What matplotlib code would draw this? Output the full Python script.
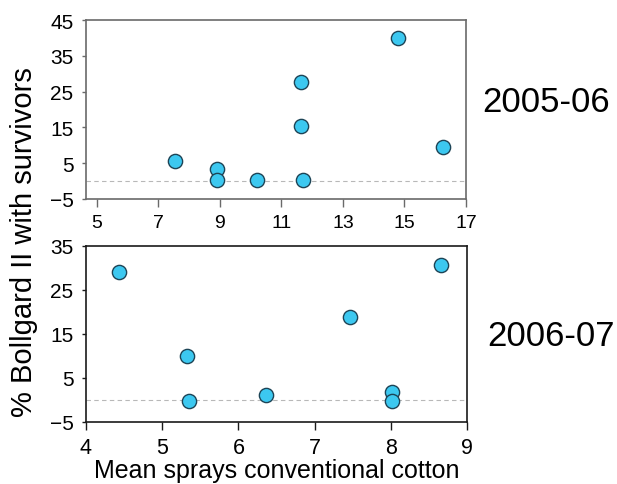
import matplotlib
matplotlib.use("Agg")
import matplotlib.pyplot as plt

# Bollgard II survivors vs. mean sprays on conventional cotton
x_0506 = [7.56, 8.9, 8.9, 10.2, 11.65, 11.65, 11.7, 14.8, 16.25]
y_0506 = [5.5, 3.4, 0.3, 0.3, 27.6, 15.4, 0.3, 40.0, 9.4]

x_0607 = [4.43, 5.32, 5.35, 6.36, 7.47, 8.02, 8.02, 8.66]
y_0607 = [29.2, 10.1, -0.2, 1.2, 18.9, 1.9, -0.2, 30.7]

xticks_0506 = [5, 7, 9, 11, 13, 15, 17]
yticks_0506 = [-5, 5, 15, 25, 35, 45]
xticks_0607 = [4, 5, 6, 7, 8, 9]
yticks_0607 = [-5, 5, 15, 25, 35]

plt.rcParams["font.family"] = ["Liberation Sans", "DejaVu Sans"]

fig = plt.figure(figsize=(6.17, 4.85), dpi=100)
W, H = 617, 485


def add_axes(left, top, right, bottom):
    return fig.add_axes([left / W, 1 - bottom / H, (right - left) / W, (bottom - top) / H])


ax1 = add_axes(86, 21, 466, 200)
ax2 = add_axes(86, 247, 467, 423)

face = "#3cc8f0"
edge = "#1d4456"

for ax, xs, ys, spine_col, xfs in [(ax1, x_0506, y_0506, "#6a6a6a", 14),
                                   (ax2, x_0607, y_0607, "#1a1a1a", 15.5)]:
    ax.axhline(0, color="#b8b8b8", lw=0.8, ls=(0, (4, 3)), zorder=1)
    ax.scatter(xs, ys, s=105, c=face, edgecolors=edge, linewidths=1.0, zorder=3)
    for sp in ax.spines.values():
        sp.set_color(spine_col)
        sp.set_linewidth(1.2)
    ax.tick_params(axis="x", length=6, width=1, color=spine_col, pad=5, labelsize=xfs)
    ax.tick_params(axis="y", length=3, width=1, color=spine_col, pad=6, labelsize=15)

ax1.set_xlim(4.652, 17)
ax1.set_ylim(-5, 45)
ax1.set_xticks(xticks_0506)
ax1.set_yticks(yticks_0506)

ax2.set_xlim(4, 9)
ax2.set_ylim(-5, 35)
ax2.set_xticks(xticks_0607)
ax2.set_yticks(yticks_0607)

ax2.set_xlabel("Mean sprays conventional cotton", fontsize=18, labelpad=0)

fig.text(24 / W, 1 - 242 / H, "% Bollgard II with survivors", rotation=90,
         ha="center", va="center", fontsize=21)
fig.text(546 / W, 1 - 103 / H, "2005-06", ha="center", va="center", fontsize=25)
fig.text(551 / W, 1 - 337 / H, "2006-07", ha="center", va="center", fontsize=25)

fig.savefig("out.png", dpi=100)
